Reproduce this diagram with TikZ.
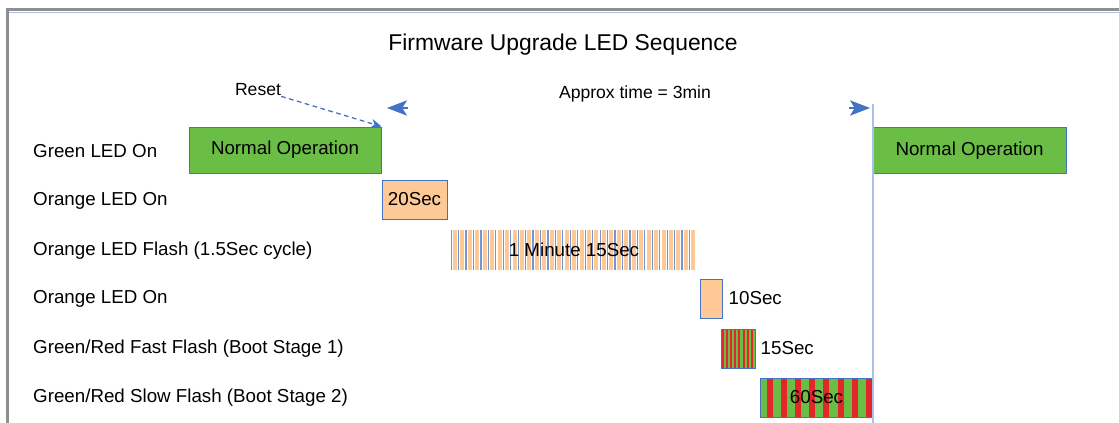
\documentclass[tikz,border=0pt]{standalone}
\usepackage{fontspec}
\setmainfont{Liberation Sans}
\usepackage{tikz}
\usetikzlibrary{positioning,arrows.meta,calc,backgrounds}
\definecolor{cazul}{HTML}{4472C4}
\definecolor{cazulc}{HTML}{A9C1E8}
\definecolor{cverde}{HTML}{6ABD45}
\definecolor{cnaranja}{HTML}{FFC996}
\definecolor{crojo}{HTML}{E3262A}
\definecolor{cgris}{HTML}{8F8F8F}
\tikzset{
  barra/.style={rectangle, draw=cazul, line width=0.8pt, inner sep=0pt,
    minimum height=1.17cm, font=\fontsize{16}{19}\selectfont},
  barrav/.style={barra, fill=cverde, minimum height=1.38cm},
  barran/.style={barra, fill=cnaranja},
  etq/.style={inner sep=0pt, font=\fontsize{16}{19}\selectfont},
  etqp/.style={inner sep=0pt, font=\fontsize{15}{18}\selectfont},
  punta/.style={-{Stealth[length=6mm,width=4.6mm,inset=1.4mm]}, line width=1pt, draw=cazul, fill=cazul},
  flecha/.style={-{Stealth[length=3.2mm,width=2.8mm]}, dash pattern=on 4pt off 3pt, line width=1.1pt, draw=cazul},
}

\begin{document}
\begin{tikzpicture}[x=0.03cm, y=-0.03cm]
  \useasboundingbox (0,0) rectangle (1119,423);
  % marco
  \coordinate (mtl) at (7.5,9.5);
  \coordinate (mtr) at (1119,9.5);
  \coordinate (mbl) at (7.5,423);
  \draw[cgris, line width=0.9mm] (mtr) -- (mtl) -- (mbl);
  \coordinate (ml) at (9,12.5);
  \coordinate (mr) at (1119,12.5);
  \draw[cazulc, line width=0.6pt] (ml) -- (mr);

  \node[inner sep=0pt, font=\fontsize{19.5}{23}\selectfont] (tit) at (563,45) {Firmware Upgrade LED Sequence};

  % filas
  \node[etq, anchor=west] (l1) at (33,151) {Green LED On};
  \node[etq, anchor=west] (l2) at (33,201) {Orange LED On};
  \node[etq, anchor=west] (l3) at (33,251) {Orange LED Flash (1.5Sec cycle)};
  \node[etq, anchor=west] (l4) at (33,299) {Orange LED On};
  \node[etq, anchor=west] (l5) at (33,349) {Green/Red Fast Flash (Boot Stage 1)};
  \node[etq, anchor=west] (l6) at (33,398) {Green/Red Slow Flash (Boot Stage 2)};

  % barras
  \node[barrav, minimum width=5.76cm] (n1) at (285,150) {Normal Operation};
  \node[barrav, minimum width=5.79cm] (n2) at (969.5,150.5) {Normal Operation};
  \node[barran, minimum width=1.95cm] (o1) at (414.5,199.5) {20Sec};
  \node[barra, draw=none, minimum width=7.38cm, minimum height=1.2cm] (fl) at (574,250) {1 Minute 15Sec};
  \node[barran, minimum width=0.66cm] (o2) at (711,298.5) {};
  \node[etq, right=0.18cm of o2] (t2) {10Sec};
  \node[barra, minimum width=1.02cm] (fa) at (738,348.5) {};
  \node[etq, right=0.15cm of fa] (t3) {15Sec};
  \node[barra, minimum width=3.39cm] (sl) at (816.5,397.5) {60Sec};

  \begin{scope}[on background layer]
    \foreach \i in {0,...,32} {
      \fill[cazul!75] ($(fl.north west)+(\i*7.45,0)$) rectangle ++(1.2,40);
      \fill[cnaranja] ($(fl.north west)+(\i*7.45+2.4,0)$) rectangle ++(4,40);
    }
    \fill[cverde] (fa.north west) rectangle (fa.south east);
    \foreach \i in {0,...,7}
      \fill[crojo] ($(fa.north west)+(\i*4.2+1,0)$) rectangle ++(2,39);
    \fill[cverde] (sl.north west) rectangle (sl.south east);
    \foreach \i in {0,...,7}
      \fill[crojo] ($(sl.north west)+(\i*14.2+7,0)$) rectangle ++(6,39);
  \end{scope}

  % reset y tiempo
  \node[etqp] (rs) at (258,90) {Reset};
  \draw[flecha] (rs.south east) -- (n1.north east);
  \node[etqp] (ap) at (635,94) {Approx time = 3min};
  \coordinate (ia) at (408,108);
  \coordinate (ib) at (387,108);
  \draw[punta] (ia) -- (ib);
  \coordinate (da) at (849,108);
  \coordinate (db) at (870,108);
  \draw[punta] (da) -- (db);
  \coordinate (vt) at (873,104);
  \coordinate (vb) at (873,423);
  \draw[cazulc, line width=1.2pt] (vt) -- (vb);
\end{tikzpicture}
\end{document}
